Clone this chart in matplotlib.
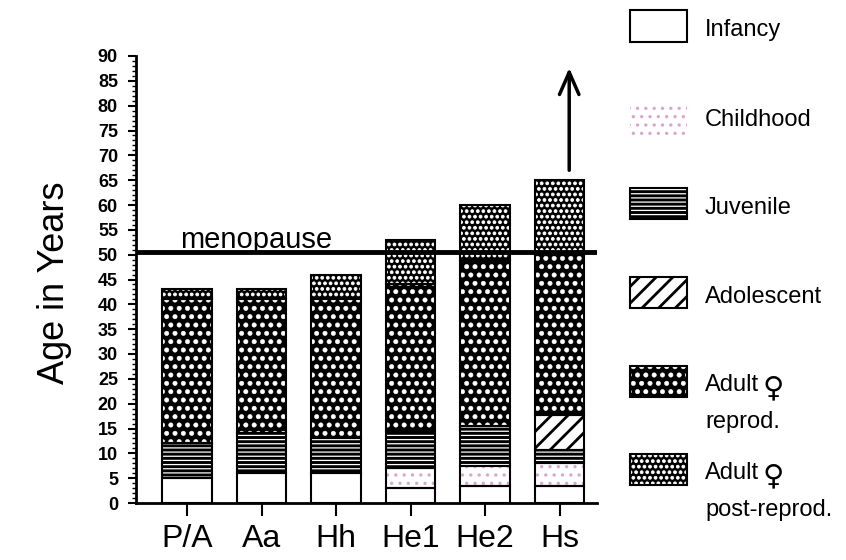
import matplotlib
matplotlib.use('Agg')
import matplotlib.pyplot as plt
import matplotlib.hatch as mhatch
from matplotlib.patches import Rectangle
import numpy as np

# ---------------- data ----------------
groups = ['P/A', 'Aa', 'Hh', 'He1', 'He2', 'Hs']
infancy = [5, 6, 6, 3, 3.5, 3.5]
childhood = [0, 0, 0, 4, 4, 4.5]
juvenile = [7, 8, 7, 7.5, 8, 2.7]
adolescent = [0, 0, 0, 0, 0, 7]
adult_reprod = [29, 27, 28, 29.5, 33.5, 32.3]
adult_post = [2, 2, 5, 9, 11, 15]
stage_line1 = ['Infancy', 'Childhood', 'Juvenile', 'Adolescent', 'Adult', 'Adult']
stage_line2 = ['', '', '', '', 'reprod.', 'post-reprod.']
female_sign = '\u2640'
menopause_age = 50.5
arrow_from, arrow_to = 67, 87.6
y_ticks = list(range(0, 91, 5))

FONT = ['Liberation Sans', 'DejaVu Sans']
plt.rcParams['font.family'] = FONT


# filled white-dot texture ("O" = big filled circles)
class BigFilledCircles(mhatch.Circles):
    size = 0.26
    filled = True

    def __init__(self, hatch, density):
        self.num_rows = hatch.count('O') * density
        super().__init__(hatch, density)


mhatch._hatch_types = [t for t in mhatch._hatch_types
                       if t is not mhatch.LargeCircles] + [BigFilledCircles]

# (face, hatch, hatch colour, hatch linewidth)
styles = [
    ('white', None, 'black', 1.0),
    ('white', '..', '#d9a6cf', 1.2),
    ('black', '----', 'white', 0.9),
    ('white', '//', 'black', 2.0),
    ('black', 'OO', 'white', 0.4),
    ('black', 'OOO', 'white', 0.6),
]
stages = [infancy, childhood, juvenile, adolescent, adult_reprod, adult_post]

W, H = 846, 560
fig = plt.figure(figsize=(W / 100, H / 100), dpi=100)
ax = fig.add_axes([136 / W, (H - 503) / H, (597 - 136) / W, (503 - 56) / H])

x = np.arange(len(groups))
bw = 0.67


def set_hlw(p, lw):
    if hasattr(p, 'set_hatch_linewidth'):
        p.set_hatch_linewidth(lw)


bottom = np.zeros(len(groups))
for vals, (face, hatch, hc, hlw) in zip(stages, styles):
    vals = np.array(vals, dtype=float)
    m = vals > 0
    with plt.rc_context({'hatch.linewidth': hlw}):
        bars = ax.bar(x[m], vals[m], bottom=bottom[m], width=bw, color=face,
                      edgecolor=hc, linewidth=0, hatch=hatch, zorder=2)
        for p in bars:
            set_hlw(p, hlw)
    ax.bar(x[m], vals[m], bottom=bottom[m], width=bw, fill=False,
           edgecolor='black', linewidth=1.5, zorder=3)
    bottom += vals

ax.set_xlim(-0.685, 5.503)
ax.set_ylim(0, 90)
ax.axhline(menopause_age, color='black', lw=3.5, zorder=4)
ax.text(-0.094, 51.4, 'menopause', fontsize=21, ha='left', va='baseline', zorder=5)
ax.annotate('', xy=(5.13, arrow_to), xytext=(5.13, arrow_from),
            arrowprops=dict(arrowstyle='->,head_length=1.6,head_width=0.7',
                            lw=2.5, color='black', shrinkA=0, shrinkB=0),
            annotation_clip=False)

for s in ['top', 'right']:
    ax.spines[s].set_visible(False)
ax.spines['left'].set_linewidth(2)
ax.spines['bottom'].set_linewidth(2)
ax.set_yticks(y_ticks)
ax.set_yticks(np.arange(0, 91, 1), minor=True)
ax.tick_params(axis='y', which='major', length=6, width=1.5, pad=7, labelsize=13)
ax.tick_params(axis='y', which='minor', length=3, width=1)
for t in ax.get_yticklabels():
    t.set_fontweight('bold')
ax.set_xticks(x, groups)
ax.tick_params(axis='x', length=9, width=1.5, pad=6, labelsize=23)

fig.text(55 / W, 1 - 283 / H, 'Age in Years', rotation=90, ha='center',
         va='center', fontsize=26)

# legend
row_centers = [26, 121, 203, 292, 381, 469]
text_centers = [30, 120, 208, 297, 385, 473]
px0, pw, ph = 630, 57, 31
for i, ((face, hatch, hc, hlw), l1, l2, rc, tc) in enumerate(zip(
        styles, stage_line1, stage_line2, row_centers, text_centers)):
    with plt.rc_context({'hatch.linewidth': hlw}):
        r = Rectangle((px0 / W, 1 - (rc + ph / 2) / H), pw / W, ph / H,
                      transform=fig.transFigure, facecolor=face, edgecolor=hc,
                      linewidth=0, hatch=hatch)
        set_hlw(r, hlw)
    fig.add_artist(r)
    if i != 1:
        fig.add_artist(Rectangle((px0 / W, 1 - (rc + ph / 2) / H), pw / W, ph / H,
                                 transform=fig.transFigure, fill=False,
                                 edgecolor='black', linewidth=1.5))
    fig.text(705 / W, 1 - tc / H, l1, fontsize=17, ha='left', va='center')
    if l2:
        fig.text(763 / W, 1 - (tc + 3) / H, female_sign, fontsize=21,
                 ha='left', va='center', family='DejaVu Sans')
        fig.text(705 / W, 1 - (tc + 37) / H, l2, fontsize=17, ha='left',
                 va='center')

fig.savefig('out.png', dpi=100)
